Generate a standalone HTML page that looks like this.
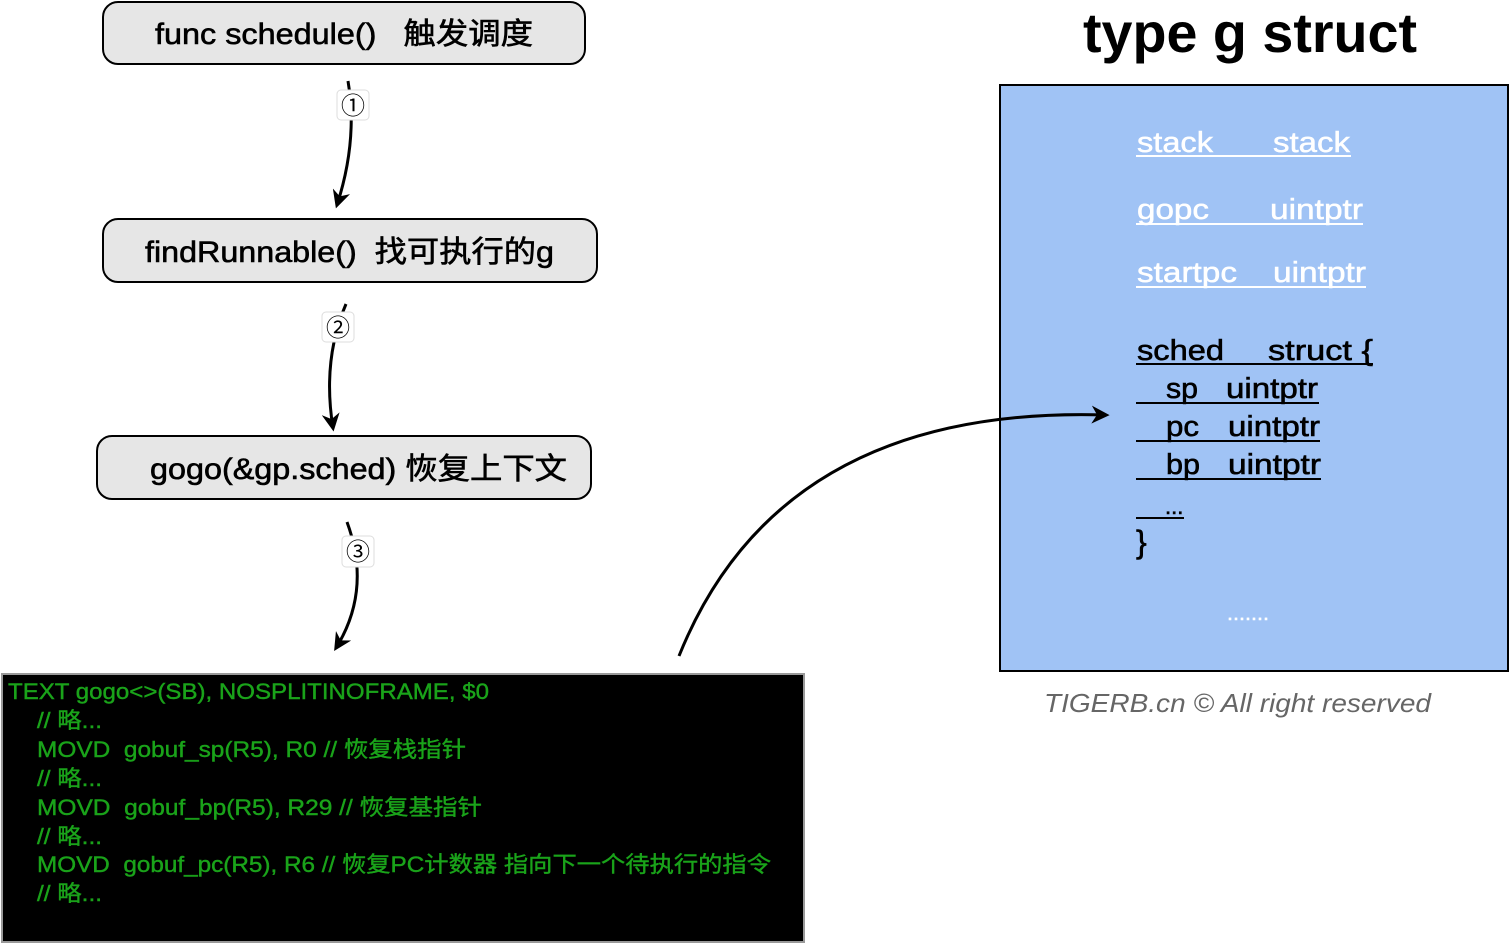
<!DOCTYPE html>
<html><head><meta charset="utf-8"><style>
html,body{margin:0;padding:0;background:#fff;}
svg{display:block}
text{font-family:"Liberation Sans","Noto Sans CJK SC",sans-serif;white-space:pre;}
</style></head><body>
<svg width="1510" height="944" viewBox="0 0 1510 944" xmlns="http://www.w3.org/2000/svg" xml:space="preserve">
<defs>
<marker id="ah" viewBox="0 0 10 10" refX="8" refY="5" markerWidth="6" markerHeight="6" orient="auto"><path d="M0,0 L10,5 L0,10 L3,5 Z" fill="#000"/></marker>
</defs>
<rect x="103" y="2" width="482" height="62" rx="15" fill="#e6e6e6" stroke="#000" stroke-width="2"/>
<text x="155" y="44" font-size="30" stroke="#000" stroke-width="0.6" textLength="378" lengthAdjust="spacingAndGlyphs">func schedule()   触发调度</text>
<rect x="103" y="219" width="494" height="63" rx="15" fill="#e6e6e6" stroke="#000" stroke-width="2"/>
<text x="145" y="262" font-size="30" stroke="#000" stroke-width="0.6" textLength="409" lengthAdjust="spacingAndGlyphs">findRunnable()  找可执行的g</text>
<rect x="97" y="436" width="494" height="63" rx="15" fill="#e6e6e6" stroke="#000" stroke-width="2"/>
<text x="150" y="479" font-size="30" stroke="#000" stroke-width="0.6" textLength="417" lengthAdjust="spacingAndGlyphs">gogo(&amp;gp.sched) 恢复上下文</text>
<path d="M348,81 Q358,140 337,205" fill="none" stroke="#000" stroke-width="3" marker-end="url(#ah)"/>
<rect x="337" y="90" width="32" height="30" rx="4" fill="#fff" stroke="#ddd"/>
<text x="353" y="114" font-size="24" text-anchor="middle">①</text>
<path d="M346,304 Q322,360 333,428" fill="none" stroke="#000" stroke-width="3" marker-end="url(#ah)"/>
<rect x="322" y="312" width="32" height="30" rx="4" fill="#fff" stroke="#ddd"/>
<text x="338" y="336" font-size="24" text-anchor="middle">②</text>
<path d="M347,522 Q372,590 336,648" fill="none" stroke="#000" stroke-width="3" marker-end="url(#ah)"/>
<rect x="342" y="536" width="32" height="31" rx="4" fill="#fff" stroke="#ddd"/>
<text x="358" y="560" font-size="24" text-anchor="middle">③</text>
<text x="1083" y="52" font-size="56" font-weight="bold" textLength="334" lengthAdjust="spacingAndGlyphs">type g struct</text>
<rect x="1000" y="85" width="508" height="586" fill="#a0c3f5" stroke="#000" stroke-width="2"/>
<path d="M679,656 Q780,405 1106,415" fill="none" stroke="#000" stroke-width="3" marker-end="url(#ah)"/>
<g fill="#fff" font-size="29" stroke="#fff" stroke-width="0.5">
<text x="1137" y="152" textLength="76" lengthAdjust="spacingAndGlyphs">stack</text>
<text x="1273" y="152" textLength="77" lengthAdjust="spacingAndGlyphs">stack</text>
<text x="1137" y="219" textLength="72" lengthAdjust="spacingAndGlyphs">gopc</text>
<text x="1270" y="219" textLength="93" lengthAdjust="spacingAndGlyphs">uintptr</text>
<text x="1137" y="282" textLength="100" lengthAdjust="spacingAndGlyphs">startpc</text>
<text x="1273" y="282" textLength="93" lengthAdjust="spacingAndGlyphs">uintptr</text>
<text x="1227" y="620" font-size="20" textLength="42" lengthAdjust="spacingAndGlyphs">.......</text>
</g>
<g stroke="#fff" stroke-width="2">
<line x1="1136" y1="156" x2="1351" y2="156"/>
<line x1="1136" y1="224" x2="1363" y2="224"/>
<line x1="1136" y1="287" x2="1366" y2="287"/>
</g>
<g fill="#000" font-size="29" stroke="#000" stroke-width="0.6">
<text x="1137" y="360" textLength="87" lengthAdjust="spacingAndGlyphs">sched</text>
<text x="1268" y="360" textLength="105" lengthAdjust="spacingAndGlyphs">struct {</text>
<text x="1166" y="398" textLength="32" lengthAdjust="spacingAndGlyphs">sp</text>
<text x="1226" y="398" textLength="92" lengthAdjust="spacingAndGlyphs">uintptr</text>
<text x="1166" y="436" textLength="33" lengthAdjust="spacingAndGlyphs">pc</text>
<text x="1228" y="436" textLength="92" lengthAdjust="spacingAndGlyphs">uintptr</text>
<text x="1166" y="474" textLength="34" lengthAdjust="spacingAndGlyphs">bp</text>
<text x="1228" y="474" textLength="93" lengthAdjust="spacingAndGlyphs">uintptr</text>
<text x="1165" y="514" font-size="22">...</text>
<text x="1136" y="553" font-size="32">}</text>
</g>
<g stroke="#000" stroke-width="2">
<line x1="1136" y1="364" x2="1373" y2="364"/>
<line x1="1136" y1="403" x2="1319" y2="403"/>
<line x1="1136" y1="441" x2="1320" y2="441"/>
<line x1="1136" y1="479" x2="1321" y2="479"/>
<line x1="1136" y1="518" x2="1184" y2="518"/>
</g>
<text x="1044" y="712" font-size="26" font-style="italic" fill="#666" textLength="387" lengthAdjust="spacingAndGlyphs">TIGERB.cn © All right reserved</text>
<rect x="2" y="674" width="802" height="268" fill="#000" stroke="#999" stroke-width="2"/>
<g fill="#1aa31a" font-size="22" stroke="#1aa31a" stroke-width="0.4">
<text x="8" y="699" textLength="481" lengthAdjust="spacingAndGlyphs">TEXT gogo&lt;&gt;(SB), NOSPLITINOFRAME, $0</text>
<text x="37" y="728" textLength="65" lengthAdjust="spacingAndGlyphs">// 略...</text>
<text x="37" y="757" textLength="429" lengthAdjust="spacingAndGlyphs">MOVD  gobuf_sp(R5), R0 // 恢复栈指针</text>
<text x="37" y="786" textLength="65" lengthAdjust="spacingAndGlyphs">// 略...</text>
<text x="37" y="815" textLength="445" lengthAdjust="spacingAndGlyphs">MOVD  gobuf_bp(R5), R29 // 恢复基指针</text>
<text x="37" y="844" textLength="65" lengthAdjust="spacingAndGlyphs">// 略...</text>
<text x="37" y="872" textLength="734" lengthAdjust="spacingAndGlyphs">MOVD  gobuf_pc(R5), R6 // 恢复PC计数器 指向下一个待执行的指令</text>
<text x="37" y="901" textLength="65" lengthAdjust="spacingAndGlyphs">// 略...</text>
</g>
</svg>
</body></html>
